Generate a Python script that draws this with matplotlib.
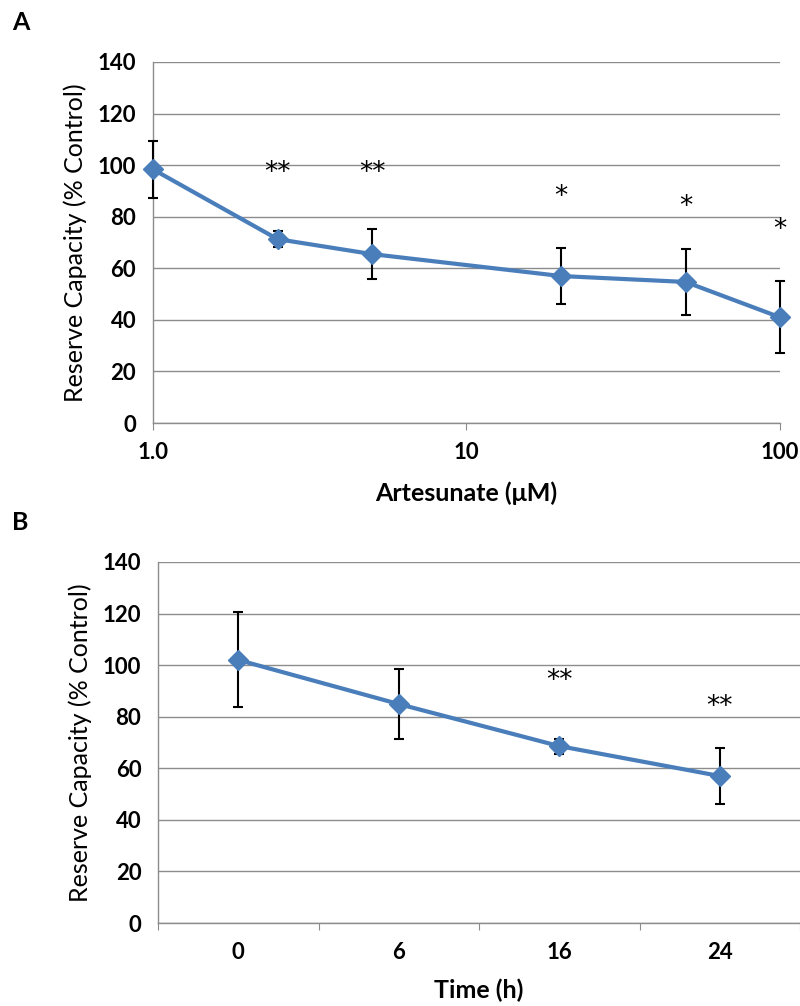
import matplotlib
matplotlib.use('Agg')
import matplotlib.pyplot as plt

plt.rcParams['font.family'] = ['Lato', 'DejaVu Sans']

# panel A: dose response
dose = [1.0, 2.5, 5, 20, 50, 100]
dose_mean = [98.4, 71.3, 65.5, 57.0, 54.7, 41.0]
dose_err = [11.0, 3.1, 9.8, 10.7, 12.7, 14.0]
dose_stars = ['', '**', '**', '*', '*', '*']
dose_star_y = [0, 98.8, 98.8, 89.5, 85.7, 76.7]

# panel B: time course
time_labels = ['0', '6', '16', '24']
time_mean = [102.0, 84.9, 68.6, 57.0]
time_err = [18.4, 13.7, 2.9, 10.7]
time_stars = ['', '', '**', '**']
time_star_y = [0, 0, 95.7, 85.7]

blue = '#4A7EBB'
grid_c = '#8c8c8c'

fig = plt.figure(figsize=(8, 10.06), dpi=100)


def style_axes(ax):
    ax.set_ylim(0, 140)
    ax.set_yticks(range(0, 141, 20))
    ax.grid(axis='y', color=grid_c, lw=1)
    ax.set_axisbelow(True)
    for s in ['top', 'right']:
        ax.spines[s].set_visible(False)
    for s in ['left', 'bottom']:
        ax.spines[s].set_color(grid_c)
        ax.spines[s].set_linewidth(1)
    ax.tick_params(axis='y', length=0, pad=12, labelsize=16)
    ax.tick_params(axis='x', length=5, color=grid_c, direction='out', labelsize=16)
    for lab in ax.get_yticklabels():
        lab.set_fontweight('bold')
    ax.set_ylabel('Reserve Capacity (% Control)', fontsize=18, labelpad=8)


def add_stars(ax, xs, stars, ys):
    for x, s, y in zip(xs, stars, ys):
        if s:
            ax.text(x, y - 2, s, ha='center', va='center',
                    fontsize=19, family='DejaVu Sans')


# A
axA = fig.add_axes([0.191, 0.5795, 0.784, 0.3589])
axA.set_xscale('log')
axA.set_xlim(1, 100)
axA.errorbar(dose, dose_mean, yerr=dose_err, color=blue, lw=3, marker='D',
             ms=10, ecolor='black', elinewidth=1.5, capsize=3.5, capthick=1.5,
             clip_on=False, zorder=3)
axA.set_xticks([1, 10, 100])
axA.set_xticklabels(['1.0', '10', '100'])
axA.minorticks_off()
style_axes(axA)
axA.tick_params(axis='x', pad=9)
for lab in axA.get_xticklabels():
    lab.set_fontweight('bold')
axA.set_xlabel('Artesunate (μM)', fontsize=18, fontweight='bold', labelpad=13)
add_stars(axA, dose, dose_stars, dose_star_y)

# B
axB = fig.add_axes([0.1975, 0.0825, 0.8025, 0.3589])
pos = range(len(time_labels))
axB.errorbar(pos, time_mean, yerr=time_err, color=blue, lw=3, marker='D',
             ms=10, ecolor='black', elinewidth=1.5, capsize=3.5, capthick=1.5,
             zorder=3)
axB.set_xlim(-0.5, len(time_labels) - 0.5)
axB.set_xticks([p - 0.5 for p in range(len(time_labels) + 1)])
axB.set_xticklabels([])
axB.set_xticks(list(pos), minor=True)
axB.set_xticklabels(time_labels, minor=True)
style_axes(axB)
axB.tick_params(axis='x', which='minor', length=0, pad=14, labelsize=16)
for lab in axB.get_xticklabels(minor=True):
    lab.set_fontweight('bold')
axB.set_xlabel('Time (h)', fontsize=18, fontweight='bold', labelpad=11)
add_stars(axB, pos, time_stars, time_star_y)

fig.text(0.015, 0.978, 'A', fontsize=18, fontweight='bold', va='center')
fig.text(0.015, 0.481, 'B', fontsize=18, fontweight='bold', va='center')

fig.savefig('out.png', dpi=100)
